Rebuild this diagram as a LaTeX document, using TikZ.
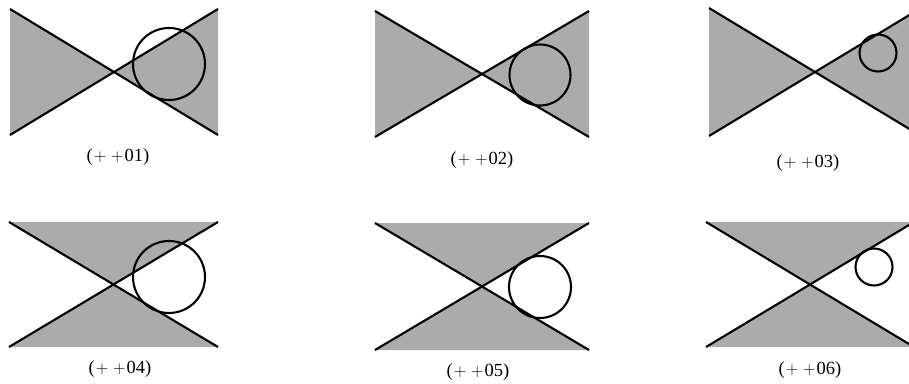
\documentclass[tikz,border=0pt]{standalone}
\usepackage{fontspec}
\setmainfont{Liberation Serif}
\begin{document}
\begin{tikzpicture}[x=1pt,y=-1pt,
  shade/.style={fill=black!33,draw=none},
  edge/.style={draw=black,line width=2.1pt},
  ring/.style={draw=black,line width=2.1pt},
  lab/.style={font=\fontsize{18.5}{20}\selectfont,inner sep=0pt}]
\clip (0,0) rectangle (909,383);
\newcommand\plab[1]{(\kern1pt$+$\kern5pt$+$\kern1pt#1)}
% ---- panel 01 (horizontal bowtie)
\fill[shade] (10,9) -- (114,72) -- (10,135) -- cycle;
\fill[shade] (218,9) -- (114,72) -- (218,135) -- cycle;
\draw[edge] (10,9) -- (218,135);
\draw[edge] (10,135) -- (218,9);
\draw[ring] (169,64) circle[radius=36];
\node[lab] (l1) at (118,157) {\plab{01}};
% ---- panel 02
\fill[shade] (375,11) -- (482,74) -- (375,137) -- cycle;
\fill[shade] (589,11) -- (482,74) -- (589,137) -- cycle;
\draw[edge] (375,11) -- (589,137);
\draw[edge] (375,137) -- (589,11);
\draw[ring] (540,75) circle[radius=30.5];
\node[lab] (l2) at (482,160) {\plab{02}};
% ---- panel 03
\fill[shade] (709,8) -- (815,72) -- (709,136) -- cycle;
\fill[shade] (921,8) -- (815,72) -- (921,136) -- cycle;
\draw[edge] (709,8) -- (921,136);
\draw[edge] (709,136) -- (921,8);
\draw[ring] (878,53) circle[radius=18.5];
\node[lab] (l3) at (808,163) {\plab{03}};
% ---- panel 04 (vertical bowtie)
\fill[shade] (9,222) -- (218,222) -- (114,285) -- cycle;
\fill[shade] (9,347) -- (218,347) -- (114,285) -- cycle;
\draw[edge] (9,222) -- (218,347);
\draw[edge] (9,347) -- (218,222);
\draw[ring] (169,277) circle[radius=36];
\node[lab] (l4) at (120,369) {\plab{04}};
% ---- panel 05
\fill[shade] (375,223) -- (589,223) -- (482,287) -- cycle;
\fill[shade] (375,350) -- (589,350) -- (482,287) -- cycle;
\draw[edge] (375,223) -- (589,350);
\draw[edge] (375,350) -- (589,223);
\draw[ring] (540,287) circle[radius=31];
\node[lab] (l5) at (478,372) {\plab{05}};
% ---- panel 06
\fill[shade] (706,222) -- (914,222) -- (810,285) -- cycle;
\fill[shade] (706,347) -- (914,347) -- (810,285) -- cycle;
\draw[edge] (706,222) -- (914,347);
\draw[edge] (706,347) -- (914,222);
\draw[ring] (874,267) circle[radius=18.5];
\node[lab] (l6) at (810,370) {\plab{06}};
\end{tikzpicture}
\end{document}
